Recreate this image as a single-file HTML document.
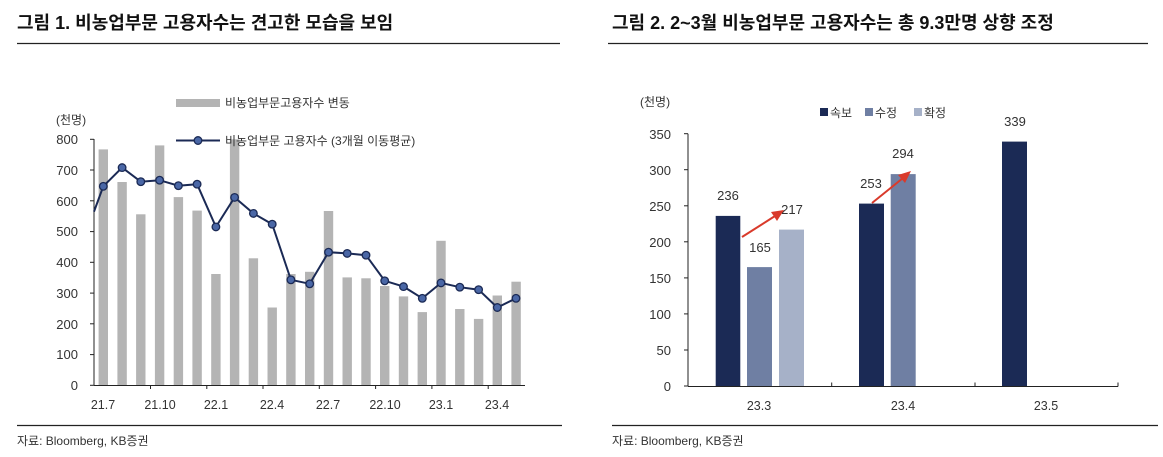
<!DOCTYPE html>
<html><head><meta charset="utf-8"><style>
body{margin:0;background:#fff;}
svg{display:block;font-family:"Liberation Sans","Noto Sans CJK KR",sans-serif;}
</style></head><body>
<svg width="1163" height="457" viewBox="0 0 1163 457" xmlns="http://www.w3.org/2000/svg">
<text x="17" y="29" font-size="18" font-weight="bold" fill="#111">그림 1. 비농업부문 고용자수는 견고한 모습을 보임</text>
<line x1="17" y1="43.5" x2="560" y2="43.5" stroke="#222" stroke-width="1.3"/>
<text x="612" y="29" font-size="18" font-weight="bold" fill="#111">그림 2. 2~3월 비농업부문 고용자수는 총 9.3만명 상향 조정</text>
<line x1="608" y1="43.5" x2="1148" y2="43.5" stroke="#222" stroke-width="1.3"/>
<line x1="17" y1="425.5" x2="562" y2="425.5" stroke="#222" stroke-width="1.3"/>
<line x1="612" y1="425.5" x2="1158" y2="425.5" stroke="#222" stroke-width="1.3"/>
<text x="17" y="445" font-size="12" fill="#333">자료: Bloomberg, KB증권</text>
<text x="612" y="445" font-size="12" fill="#333">자료: Bloomberg, KB증권</text>

<!-- Left chart -->
<g font-size="13" fill="#333">
<text x="56" y="124" font-size="12">(천명)</text>
<g text-anchor="end">
<text x="78" y="144">800</text><text x="78" y="175">700</text><text x="78" y="206">600</text><text x="78" y="236">500</text><text x="78" y="267">400</text><text x="78" y="298">300</text><text x="78" y="329">200</text><text x="78" y="359">100</text><text x="78" y="390">0</text>
</g>
</g>
<g id="bars" fill="#b4b4b4">
<rect x="98.6" y="149.4" width="9.4" height="235.9"/>
<rect x="117.4" y="182.0" width="9.4" height="203.3"/>
<rect x="136.1" y="214.3" width="9.4" height="171.0"/>
<rect x="154.9" y="145.4" width="9.4" height="239.9"/>
<rect x="173.7" y="197.1" width="9.4" height="188.2"/>
<rect x="192.4" y="210.6" width="9.4" height="174.7"/>
<rect x="211.2" y="274.0" width="9.4" height="111.3"/>
<rect x="229.9" y="139.3" width="9.4" height="246.0"/>
<rect x="248.7" y="258.3" width="9.4" height="127.0"/>
<rect x="267.5" y="307.5" width="9.4" height="77.8"/>
<rect x="286.2" y="274.0" width="9.4" height="111.3"/>
<rect x="305.0" y="271.8" width="9.4" height="113.5"/>
<rect x="323.8" y="211.0" width="9.4" height="174.3"/>
<rect x="342.5" y="277.4" width="9.4" height="107.9"/>
<rect x="361.3" y="278.3" width="9.4" height="107.0"/>
<rect x="380.0" y="286.0" width="9.4" height="99.3"/>
<rect x="398.8" y="296.4" width="9.4" height="88.9"/>
<rect x="417.6" y="312.1" width="9.4" height="73.2"/>
<rect x="436.3" y="240.8" width="9.4" height="144.5"/>
<rect x="455.1" y="309.0" width="9.4" height="76.3"/>
<rect x="473.9" y="318.9" width="9.4" height="66.4"/>
<rect x="492.6" y="295.5" width="9.4" height="89.8"/>
<rect x="511.4" y="281.7" width="9.4" height="103.6"/>
</g>
<g stroke="#222" stroke-width="1">
<line x1="94" y1="139" x2="94" y2="385.5"/>
<line x1="94" y1="385.5" x2="525" y2="385.5"/>
<line x1="90" y1="139.3" x2="94" y2="139.3"/><line x1="90" y1="170" x2="94" y2="170"/><line x1="90" y1="200.8" x2="94" y2="200.8"/><line x1="90" y1="231.6" x2="94" y2="231.6"/><line x1="90" y1="262.3" x2="94" y2="262.3"/><line x1="90" y1="293.1" x2="94" y2="293.1"/><line x1="90" y1="323.8" x2="94" y2="323.8"/><line x1="90" y1="354.6" x2="94" y2="354.6"/><line x1="90" y1="385.3" x2="94" y2="385.3"/>
<line x1="150.5" y1="385" x2="150.5" y2="389"/><line x1="206.8" y1="385" x2="206.8" y2="389"/><line x1="263" y1="385" x2="263" y2="389"/><line x1="319.3" y1="385" x2="319.3" y2="389"/><line x1="375.6" y1="385" x2="375.6" y2="389"/><line x1="431.9" y1="385" x2="431.9" y2="389"/><line x1="488.2" y1="385" x2="488.2" y2="389"/>
</g>
<polyline fill="none" stroke="#1b2a55" stroke-width="2" points="94,211.6 103.3,186.3 122.1,167.6 140.8,181.7 159.6,180.2 178.4,185.7 197.1,184.2 215.9,226.9 234.6,197.4 253.4,213.4 272.2,224.2 290.9,279.8 309.7,283.8 328.5,252.2 347.2,253.4 366,255.2 384.7,280.8 403.5,286.6 422.3,298.3 441,282.9 459.8,287.2 478.6,289.7 497.3,307.5 516,298.3"/>
<g fill="#4a67a6" stroke="#1b2a55" stroke-width="1.3">
<circle cx="103.3" cy="186.3" r="3.8"/><circle cx="122.1" cy="167.6" r="3.8"/><circle cx="140.8" cy="181.7" r="3.8"/><circle cx="159.6" cy="180.2" r="3.8"/><circle cx="178.4" cy="185.7" r="3.8"/><circle cx="197.1" cy="184.2" r="3.8"/><circle cx="215.9" cy="226.9" r="3.8"/><circle cx="234.6" cy="197.4" r="3.8"/><circle cx="253.4" cy="213.4" r="3.8"/><circle cx="272.2" cy="224.2" r="3.8"/><circle cx="290.9" cy="279.8" r="3.8"/><circle cx="309.7" cy="283.8" r="3.8"/><circle cx="328.5" cy="252.2" r="3.8"/><circle cx="347.2" cy="253.4" r="3.8"/><circle cx="366" cy="255.2" r="3.8"/><circle cx="384.7" cy="280.8" r="3.8"/><circle cx="403.5" cy="286.6" r="3.8"/><circle cx="422.3" cy="298.3" r="3.8"/><circle cx="441" cy="282.9" r="3.8"/><circle cx="459.8" cy="287.2" r="3.8"/><circle cx="478.6" cy="289.7" r="3.8"/><circle cx="497.3" cy="307.5" r="3.8"/><circle cx="516" cy="298.3" r="3.8"/>
</g>
<!-- legend left -->
<rect x="176" y="99" width="44" height="8" fill="#b4b4b4"/>
<text x="225" y="107" font-size="12" fill="#333">비농업부문고용자수 변동</text>
<line x1="176" y1="140.5" x2="220" y2="140.5" stroke="#1b2a55" stroke-width="2"/>
<circle cx="198" cy="140.5" r="3.8" fill="#4a67a6" stroke="#1b2a55" stroke-width="1.3"/>
<text x="225" y="145" font-size="12" fill="#333">비농업부문 고용자수 (3개월 이동평균)</text>
<g font-size="12.5" fill="#333" text-anchor="middle">
<text x="103" y="409">21.7</text><text x="160" y="409">21.10</text><text x="216" y="409">22.1</text><text x="272" y="409">22.4</text><text x="328" y="409">22.7</text><text x="385" y="409">22.10</text><text x="441" y="409">23.1</text><text x="497" y="409">23.4</text>
</g>

<!-- Right chart -->
<text x="640" y="106" font-size="12" fill="#333">(천명)</text>
<g font-size="13" fill="#333" text-anchor="end">
<text x="671" y="139">350</text><text x="671" y="175">300</text><text x="671" y="211">250</text><text x="671" y="247">200</text><text x="671" y="283">150</text><text x="671" y="319">100</text><text x="671" y="355">50</text><text x="671" y="391">0</text>
</g>
<rect x="715.7" y="215.9" width="24.6" height="170.1" fill="#1b2a55"/>
<rect x="747" y="267.1" width="25" height="118.9" fill="#6f7fa3"/>
<rect x="779" y="229.6" width="25" height="156.4" fill="#a6b1c8"/>
<rect x="859" y="203.6" width="25" height="182.4" fill="#1b2a55"/>
<rect x="890.7" y="174.1" width="25" height="211.9" fill="#6f7fa3"/>
<rect x="1002" y="141.6" width="25" height="244.4" fill="#1b2a55"/>
<g stroke="#222" stroke-width="1">
<line x1="688" y1="133.7" x2="688" y2="386.5"/>
<line x1="688" y1="386.5" x2="1118" y2="386.5"/>
<line x1="684" y1="133.7" x2="688" y2="133.7"/><line x1="684" y1="169.7" x2="688" y2="169.7"/><line x1="684" y1="205.8" x2="688" y2="205.8"/><line x1="684" y1="241.8" x2="688" y2="241.8"/><line x1="684" y1="277.9" x2="688" y2="277.9"/><line x1="684" y1="313.9" x2="688" y2="313.9"/><line x1="684" y1="350" x2="688" y2="350"/><line x1="684" y1="386" x2="688" y2="386"/>
<line x1="831.7" y1="382.5" x2="831.7" y2="386.5"/><line x1="975" y1="382.5" x2="975" y2="386.5"/><line x1="1118" y1="382.5" x2="1118" y2="386.5"/>
</g>
<g font-size="13" fill="#333" text-anchor="middle">
<text x="728" y="200">236</text><text x="760" y="252">165</text><text x="792" y="214">217</text>
<text x="871" y="188">253</text><text x="903" y="158">294</text><text x="1015" y="126">339</text>
</g>
<g stroke="#d93a2b" stroke-width="2" fill="#d93a2b">
<line x1="742" y1="237" x2="775" y2="216"/>
<polygon points="784,210 771,212 777,221" stroke="none"/>
<line x1="872" y1="203" x2="903" y2="178"/>
<polygon points="911,171 898,175 905,183" stroke="none"/>
</g>
<rect x="820" y="108" width="8" height="8" fill="#1b2a55"/>
<text x="830" y="117" font-size="12" fill="#333">속보</text>
<rect x="865" y="108" width="8" height="8" fill="#6f7fa3"/>
<text x="875" y="117" font-size="12" fill="#333">수정</text>
<rect x="914" y="108" width="8" height="8" fill="#a6b1c8"/>
<text x="924" y="117" font-size="12" fill="#333">확정</text>
<g font-size="12.5" fill="#333" text-anchor="middle">
<text x="759" y="410">23.3</text><text x="903" y="410">23.4</text><text x="1046" y="410">23.5</text>
</g>
</svg>
</body></html>
